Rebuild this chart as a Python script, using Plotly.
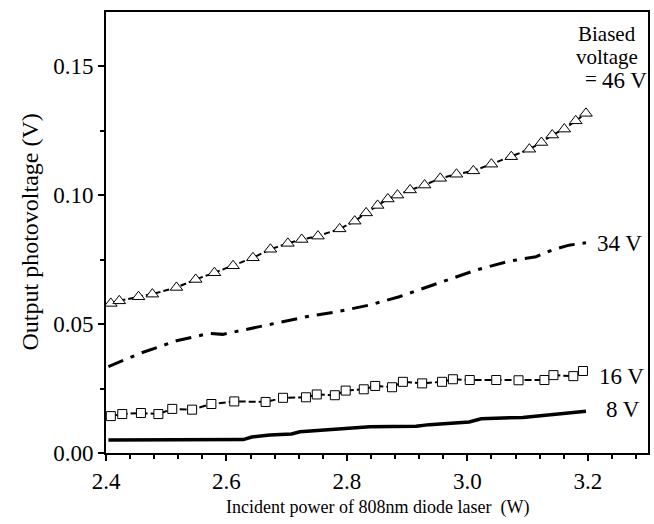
import plotly.graph_objects as go

# 46 V (triangles)
x46 = [2.408, 2.422, 2.454, 2.477, 2.517, 2.549, 2.580, 2.611, 2.644, 2.673, 2.702, 2.725,
       2.752, 2.788, 2.813, 2.832, 2.851, 2.868, 2.884, 2.905, 2.929, 2.955, 2.982, 3.010,
       3.040, 3.073, 3.103, 3.123, 3.141, 3.161, 3.180, 3.197]
y46 = [0.0580, 0.0590, 0.0606, 0.0616, 0.0642, 0.0673, 0.0699, 0.0726, 0.0757, 0.0790, 0.0813, 0.0828,
       0.0841, 0.0869, 0.0899, 0.0931, 0.0960, 0.0985, 0.1000, 0.1020, 0.1039, 0.1065, 0.1081, 0.1094,
       0.1120, 0.1149, 0.1178, 0.1204, 0.1233, 0.1256, 0.1288, 0.1317]

# 34 V (dash-dot)
x34 = [2.404, 2.456, 2.517, 2.572, 2.594, 2.622, 2.683, 2.738, 2.782, 2.838, 2.887, 2.943,
       3.014, 3.070, 3.114, 3.141, 3.169, 3.197]
y34 = [0.0335, 0.0386, 0.0435, 0.0464, 0.0460, 0.0474, 0.0505, 0.0531, 0.0547, 0.0574, 0.0606, 0.0651,
       0.0709, 0.0744, 0.0761, 0.0787, 0.0806, 0.0815]

# 16 V (squares)
x16 = [2.408, 2.427, 2.458, 2.487, 2.510, 2.543, 2.575, 2.613, 2.665, 2.694, 2.732, 2.750,
       2.780, 2.798, 2.828, 2.847, 2.875, 2.893, 2.925, 2.958, 2.976, 3.004, 3.048, 3.085,
       3.128, 3.143, 3.176, 3.192]
y16 = [0.0143, 0.0151, 0.0155, 0.0151, 0.0171, 0.0168, 0.0190, 0.0200, 0.0198, 0.0214, 0.0216, 0.0227,
       0.0224, 0.0242, 0.0247, 0.0260, 0.0255, 0.0276, 0.0270, 0.0276, 0.0286, 0.0283, 0.0283, 0.0282,
       0.0283, 0.0302, 0.0298, 0.0318]

# 8 V (solid)
x8 = [2.404, 2.500, 2.628, 2.642, 2.672, 2.708, 2.722, 2.780, 2.838, 2.915, 2.937, 3.003,
      3.023, 3.092, 3.141, 3.169, 3.197]
y8 = [0.0050, 0.0050, 0.0052, 0.0062, 0.0070, 0.0074, 0.0082, 0.0092, 0.0102, 0.0104, 0.0110, 0.0120,
      0.0133, 0.0138, 0.0148, 0.0155, 0.0162]

series_labels = ["46 V", "34 V", "16 V", "8 V"]
x_title = "Incident power of 808nm diode laser  (W)"
y_title = "Output photovoltage (V)"

FONT = "Liberation Serif"
fig = go.Figure()
fig.add_trace(go.Scatter(x=x46, y=y46, mode="lines+markers",
                         line=dict(color="black", width=2, dash="6px,3px"),
                         marker=dict(symbol="triangle-up", size=11, color="white",
                                     line=dict(width=1, color="black")),
                         name=series_labels[0]))
fig.add_trace(go.Scatter(x=x34, y=y34, mode="lines",
                         line=dict(color="black", width=3, dash="16px,8px,4px,8px"),
                         name=series_labels[1]))
fig.add_trace(go.Scatter(x=x16, y=y16, mode="lines+markers",
                         line=dict(color="black", width=2, dash="7px,3px"),
                         marker=dict(symbol="square", size=9, color="white",
                                     line=dict(width=1, color="black")),
                         name=series_labels[2]))
fig.add_trace(go.Scatter(x=x8, y=y8, mode="lines",
                         line=dict(color="black", width=3.5),
                         name=series_labels[3]))

lab_font = dict(family=FONT, size=23, color="black")
small_font = dict(family=FONT, size=21, color="black")
anns = [
    dict(x=3.222, y=0.1446, text="46 V", xanchor="left", font=lab_font),
    dict(x=3.214, y=0.0814, text="34 V", xanchor="left", font=lab_font),
    dict(x=3.217, y=0.0295, text="16 V", xanchor="left", font=lab_font),
    dict(x=3.229, y=0.0167, text="8 V", xanchor="left", font=lab_font),
    dict(x=3.232, y=0.1624, text="Biased", xanchor="center", font=small_font),
    dict(x=3.232, y=0.1535, text="voltage", xanchor="center", font=small_font),
    dict(x=3.206, y=0.1450, text="=", xanchor="center", font=small_font),
]
for a in anns:
    fig.add_annotation(x=a["x"], y=a["y"], text=a["text"], xanchor=a["xanchor"], yanchor="middle",
                       showarrow=False, font=a["font"], xref="x", yref="y", borderpad=0)

# axis titles
fig.add_annotation(x=0.5, y=-0.123, xref="paper", yref="paper", text=x_title, showarrow=False,
                   xanchor="center", yanchor="middle", font=dict(family=FONT, size=18, color="black"))
fig.add_annotation(x=-0.142, y=0.5, xref="paper", yref="paper", text=y_title, showarrow=False,
                   textangle=-90, xanchor="center", yanchor="middle",
                   font=dict(family=FONT, size=24, color="black"))

fig.update_layout(
    width=654, height=524,
    margin=dict(l=106, r=6, t=12, b=71),
    paper_bgcolor="white", plot_bgcolor="white",
    showlegend=False,
    font=dict(family=FONT, color="black"),
)
fig.update_xaxes(range=[2.4, 3.3], tick0=2.4, dtick=0.2, tickformat=".1f",
                 showgrid=False, zeroline=False, automargin=False,
                 showline=True, linecolor="black", linewidth=2, mirror=True,
                 ticks="outside", ticklen=6, tickwidth=1.5, tickcolor="black",
                 minor=dict(dtick=0.04, tick0=2.4, ticks="outside", ticklen=4, tickwidth=1.5, tickcolor="black"),
                 tickfont=dict(family=FONT, size=23, color="black"))
fig.update_yaxes(range=[0, 0.171], tick0=0, dtick=0.05, tickformat=".2f",
                 showgrid=False, zeroline=False, automargin=False,
                 showline=True, linecolor="black", linewidth=2, mirror=True,
                 ticks="outside", ticklen=6, tickwidth=1.5, tickcolor="black",
                 minor=dict(dtick=0.025, tick0=0, ticks="outside", ticklen=4, tickwidth=1.5, tickcolor="black"),
                 tickfont=dict(family=FONT, size=23, color="black"))

fig.write_html("out.html", config={"displayModeBar": False},
               post_script="document.body.style.margin='0';document.body.style.padding='0';")
